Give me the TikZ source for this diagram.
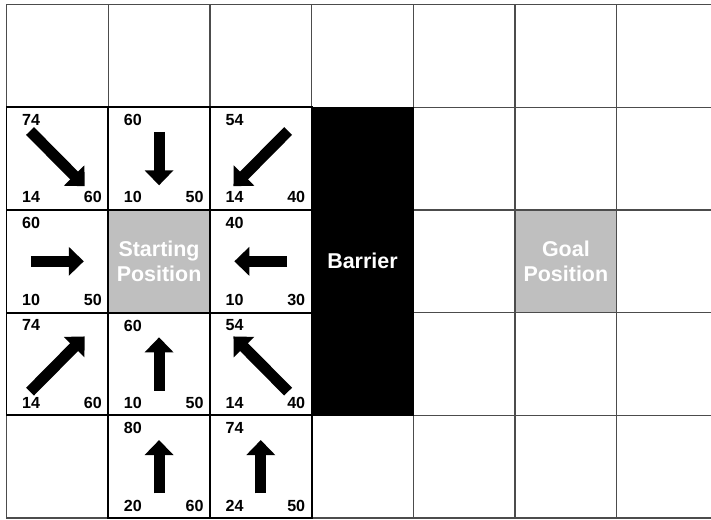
\documentclass[tikz,border=0pt]{standalone}
\usepackage{fontspec}
\setmainfont{Liberation Sans}
\usetikzlibrary{arrows.meta, positioning}

\begin{document}
\begin{tikzpicture}[
    x=2cm, y=2.02cm,
    every node/.style={font=\bfseries},
    cell/.style={rectangle, draw=black!70, line width=0.75pt, minimum width=2cm, minimum height=2.02cm, inner sep=0pt, outer sep=0pt},
    frame/.style={draw=black, line width=1.1pt},
    special/.style={cell, fill=black!25, text=white, align=center, font=\fontsize{12}{13.7}\selectfont\bfseries},
    barrier/.style={cell, draw=black, fill=black, text=white, minimum height=6.06cm, font=\fontsize{12}{13.7}\selectfont\bfseries},
    num/.style={inner sep=0pt, font=\fontsize{9}{10}\selectfont\bfseries},
    blockarrow/.style={line width=6.2pt, -{Triangle[width=15.7pt, length=8.4pt]}}
]
\useasboundingbox (-0.064,0.044) rectangle (6.927,-5.01);
\fill[white] (-0.064,0.044) rectangle (6.927,-5.01);
\clip (-0.064,0.044) rectangle (6.927,-5.01);

% Grid
\foreach \c in {0,...,6}
  \foreach \r in {0,...,4}
    \node[cell] (cell-\c-\r) at (\c+0.5,-\r-0.5) {};

% Start, goal and barrier
\node[special] (start) at (cell-1-2) {Starting\\Position};
\node[special] (goal) at (cell-5-2) {Goal\\Position};
\node[barrier] (wall) at (cell-3-2) {Barrier};

% Neighbour cells with values and moves
\foreach \c/\r/\t/\bl/\br/\a/\l in {0/1/74/14/60/-45/0.38, 1/1/60/10/50/-90/0.26, 2/1/54/14/40/-135/0.38,
                                     0/2/60/10/50/0/0.26, 2/2/40/10/30/180/0.26,
                                     0/3/74/14/60/45/0.38, 1/3/60/10/50/90/0.26, 2/3/54/14/40/135/0.38,
                                     1/4/80/20/60/90/0.26, 2/4/74/24/50/90/0.26}{
  \draw[frame] (cell-\c-\r.north west) rectangle (cell-\c-\r.south east);
  \node[num, anchor=north west] (top-\c-\r) at ([xshift=8.6pt, yshift=-3.8pt]cell-\c-\r.north west) {\t};
  \node[num, anchor=base west] (left-\c-\r) at ([xshift=8.6pt, yshift=3.9pt]cell-\c-\r.south west) {\bl};
  \node[num, anchor=base east] (right-\c-\r) at ([xshift=-3.4pt, yshift=3.9pt]cell-\c-\r.south east) {\br};
  \draw[blockarrow] ([shift={(\a+180:\l)}]cell-\c-\r.center) -- ([shift={(\a:\l)}]cell-\c-\r.center);
}

\end{tikzpicture}
\end{document}
